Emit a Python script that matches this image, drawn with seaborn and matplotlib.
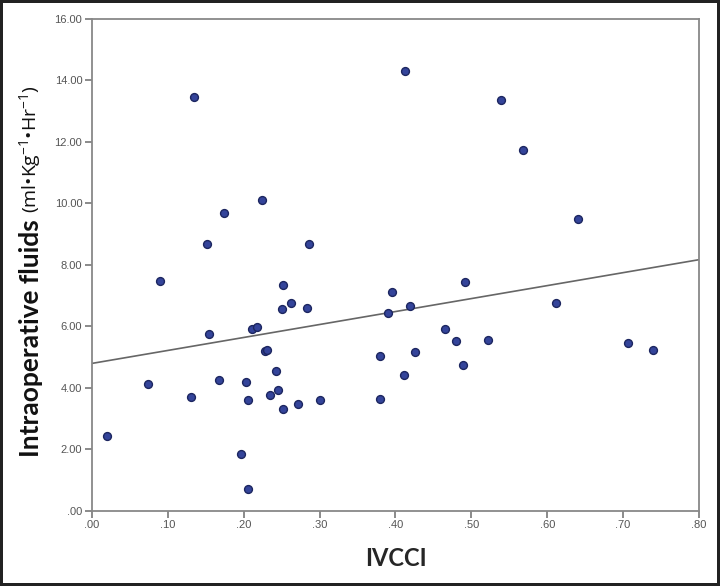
import matplotlib
matplotlib.use("Agg")
import matplotlib.pyplot as plt
from matplotlib.ticker import FuncFormatter, MultipleLocator
import pandas as pd
import seaborn as sns

# IVCCI vs intraoperative fluids
ivcci = [0.020, 0.074, 0.089, 0.130, 0.135, 0.152, 0.154, 0.167, 0.174, 0.197,
         0.203, 0.205, 0.206, 0.211, 0.218, 0.224, 0.228, 0.231, 0.235, 0.242,
         0.245, 0.251, 0.252, 0.252, 0.262, 0.272, 0.283, 0.286, 0.301, 0.379,
         0.379, 0.390, 0.396, 0.411, 0.412, 0.419, 0.426, 0.465, 0.480, 0.489,
         0.492, 0.522, 0.539, 0.568, 0.611, 0.641, 0.706, 0.740]
fluids = [2.42, 4.11, 7.48, 3.70, 13.44, 8.68, 5.76, 4.26, 9.69, 1.84,
          4.20, 3.61, 0.72, 5.92, 5.98, 10.11, 5.19, 5.23, 3.77, 4.54,
          3.94, 6.55, 7.35, 3.32, 6.74, 3.46, 6.59, 8.66, 3.60, 5.02,
          3.62, 6.43, 7.12, 4.40, 14.30, 6.66, 5.16, 5.90, 5.52, 4.74,
          7.43, 5.54, 13.36, 11.73, 6.77, 9.49, 5.46, 5.23]

df = pd.DataFrame({"IVCCI": ivcci, "fluids": fluids})

sns.set_style("white")
plt.rcParams["mathtext.fontset"] = "custom"
plt.rcParams["mathtext.rm"] = "Open Sans"

fig = plt.figure(figsize=(7.2, 5.86), dpi=100, edgecolor="#222222", linewidth=3)
ax = fig.add_axes([0.1278, 0.1285, 0.843, 0.8395])

ax.set_xlim(0, 0.8)
ax.set_ylim(0, 16)

sns.regplot(data=df, x="IVCCI", y="fluids", ax=ax, ci=None, truncate=False,
            scatter_kws=dict(s=32, color="#34449a", edgecolors="#1c2660",
                             linewidths=1.0, alpha=1, zorder=3),
            line_kws=dict(color="#666666", linewidth=1.2, zorder=2))

ax.set_xlim(0, 0.8)
ax.set_ylim(0, 16)

fmt = FuncFormatter(lambda v, p: f"{v:.2f}".lstrip("0") if v < 1 else f"{v:.2f}")
ax.xaxis.set_major_locator(MultipleLocator(0.1))
ax.yaxis.set_major_locator(MultipleLocator(2))
ax.xaxis.set_major_formatter(fmt)
ax.yaxis.set_major_formatter(fmt)
ax.tick_params(axis="both", direction="out", length=5, width=1.2, color="#777777",
               labelsize=8, labelcolor="#555555", pad=2,
               bottom=True, left=True)
for lab in ax.get_xticklabels() + ax.get_yticklabels():
    lab.set_family("Liberation Sans")
for sp in ax.spines.values():
    sp.set_color("#888888")
    sp.set_linewidth(1.3)

ax.set_xlabel("IVCCI", fontsize=17, fontweight="bold", family="Lato", labelpad=12)
ax.set_ylabel("")
fig.text(0.043, 0.423, "Intraoperative fluids", rotation=90, ha="center", va="center",
         fontsize=19, fontweight="bold", family="Lato", color="#111111")
fig.text(0.043, 0.745, r"(ml•Kg$^{-1}$•Hr$^{-1}$)", rotation=90, ha="center", va="center",
         fontsize=14, family="Open Sans", color="#111111")

fig.savefig("out.png", dpi=100, edgecolor=fig.get_edgecolor())
